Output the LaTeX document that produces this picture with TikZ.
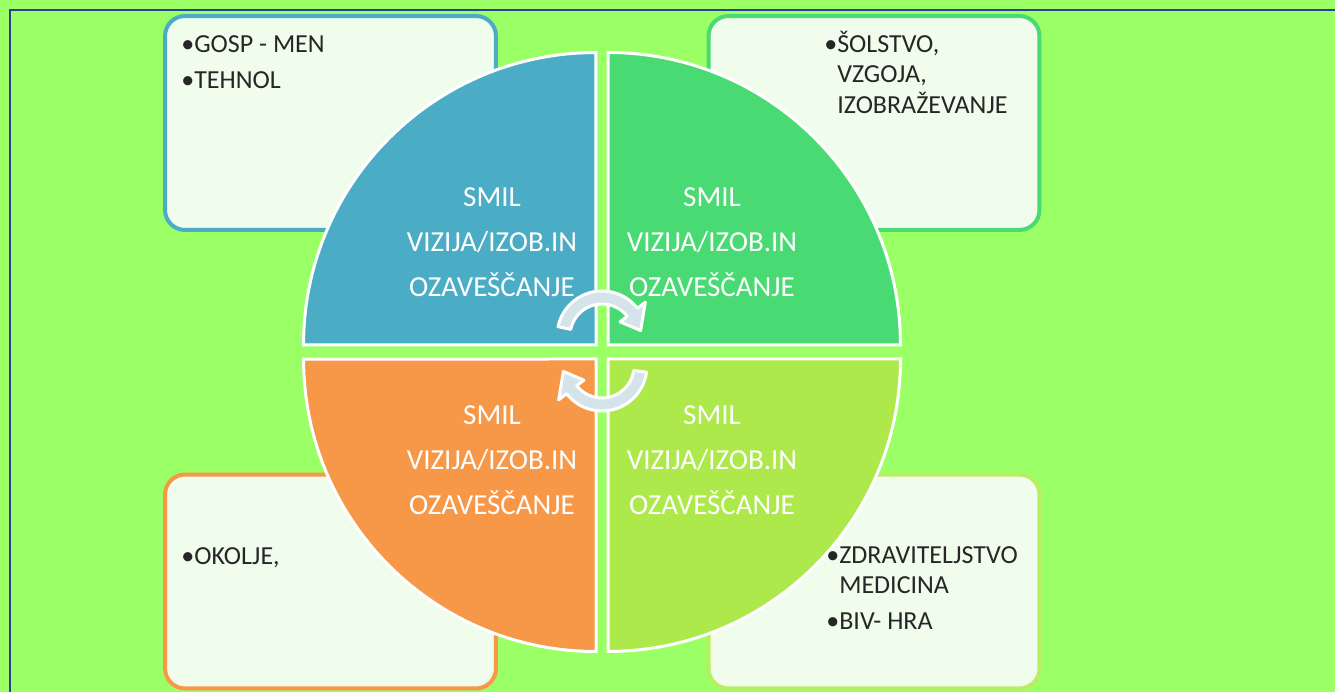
\documentclass[tikz,border=0pt]{standalone}
\usepackage{fontspec}
\setmainfont{Carlito}
\usepackage{tikz}

\definecolor{bggreen}{RGB}{155,255,102}
\definecolor{framblue}{RGB}{46,64,150}
\definecolor{boxfill}{RGB}{240,252,236}
\definecolor{qblue}{RGB}{75,172,198}
\definecolor{qgreen}{RGB}{74,218,116}
\definecolor{qorange}{RGB}{247,152,72}
\definecolor{qlime}{RGB}{173,233,74}
\definecolor{limeline}{RGB}{185,238,100}
\definecolor{arrowblue}{RGB}{213,227,235}

\begin{document}
\begin{tikzpicture}[x=0.02cm,y=0.02cm]
        \tikzset{box/.style = {draw,line width=0.08cm,rounded corners=0.4cm,fill=boxfill,minimum width=6.62cm,minimum height=4.28cm}};
        \tikzset{quarter/.style = {draw=white,line width=0.06cm}};
        \tikzset{qtext/.style = {text=white,align=center,font=\fontsize{16.5}{25.6}\selectfont}};
        \tikzset{entry/.style = {anchor=base west,inner sep=0pt,text=black!85,font=\fontsize{14.8}{17}\selectfont}};
        \tikzset{cyclearrow/.style = {fill=arrowblue,draw=white,line width=0.06cm,line join=round}};
        \fill[bggreen] (0,0) rectangle (1335,692);
        \useasboundingbox (0,0) rectangle (1335,692);
        \draw[framblue,line width=0.04cm] (10,0) -- (10,682) -- (1335,682);
        % boxes
        \node[box,draw=qblue] (b1) at (330.5,569) {};
        \node[box,draw=qgreen] (b2) at (874,569) {};
        \node[box,draw=qorange] (b3) at (330.5,110.5) {};
        \node[box,draw=limeline] (b4) at (874,110.5) {};
        % quarters
        \draw[quarter,fill=qblue] (596,347) -- ++(-292.5,0) arc[start angle=180,end angle=90,radius=5.85cm] -- cycle;
        \draw[quarter,fill=qgreen] (608,347) -- ++(0,292.5) arc[start angle=90,end angle=0,radius=5.85cm] -- cycle;
        \draw[quarter,fill=qorange] (596,333) -- ++(0,-292.5) arc[start angle=270,end angle=180,radius=5.85cm] -- cycle;
        \draw[quarter,fill=qlime] (608,333) -- ++(292.5,0) arc[start angle=0,end angle=-90,radius=5.85cm] -- cycle;
        % arrows
        \coordinate (c1) at (602,356);
        \coordinate (c2) at (602,326);
        \begin{scope}[shift={(c1)}]
        \draw[cyclearrow] (168:0.9cm) arc[start angle=168,end angle=38,radius=0.9cm] -- (38:1.1cm) -- (8:0.78cm) -- (38:0.46cm) -- (38:0.64cm) arc[start angle=38,end angle=168,radius=0.64cm] -- cycle;
        \end{scope}
        \begin{scope}[shift={(c2)}]
        \draw[cyclearrow] (-8:0.9cm) arc[start angle=-8,end angle=-142,radius=0.9cm] -- (-142:1.1cm) -- (-172:0.78cm) -- (-142:0.46cm) -- (-142:0.64cm) arc[start angle=-142,end angle=-8,radius=0.64cm] -- cycle;
        \end{scope}
        % texts
        \node[qtext] (q1) at (492,450) {SMIL\\VIZIJA/IZOB.IN\\OZAVEŠČANJE};
        \node[qtext] (q2) at (712,450) {SMIL\\VIZIJA/IZOB.IN\\OZAVEŠČANJE};
        \node[qtext] (q3) at (492,232) {SMIL\\VIZIJA/IZOB.IN\\OZAVEŠČANJE};
        \node[qtext] (q4) at (712,232) {SMIL\\VIZIJA/IZOB.IN\\OZAVEŠČANJE};
        \node[entry] (t1) at (181,639) {\begin{tabular}[t]{@{}l@{}l@{}}\textbullet & GOSP - MEN\\[3pt] \textbullet & TEHNOL\end{tabular}};
        \node[entry] (t2) at (824,639) {\begin{tabular}[t]{@{}l@{}l@{}}\textbullet & ŠOLSTVO,\\ & VZGOJA,\\ & IZOBRAŽEVANJE\end{tabular}};
        \node[entry] (t3) at (181,127) {\begin{tabular}[t]{@{}l@{}l@{}}\textbullet & OKOLJE,\end{tabular}};
        \node[entry] (t4) at (826,128) {\begin{tabular}[t]{@{}l@{}l@{}}\textbullet & ZDRAVITELJSTVO\\ & MEDICINA\\[3pt] \textbullet & BIV- HRA\end{tabular}};
    \end{tikzpicture}
\end{document}
